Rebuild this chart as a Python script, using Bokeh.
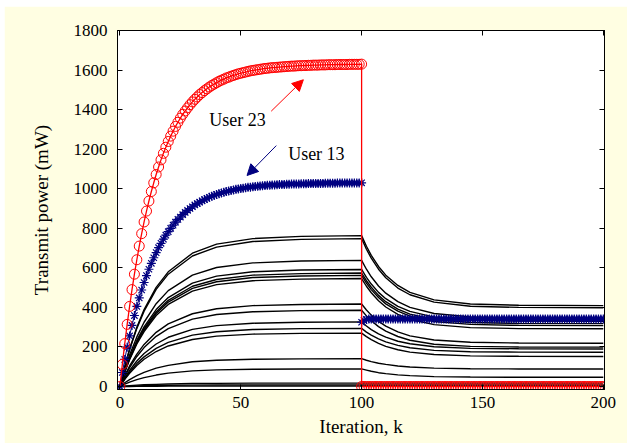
from bokeh.plotting import figure
from bokeh.models import (LinearAxis, FixedTicker, Arrow, NormalHead,
                          CustomJSTickFormatter, ColumnDataSource)
from bokeh.core.properties import value
from bokeh.embed import file_html
from bokeh.resources import INLINE

# Iteration indices for the two phases (phase 2 restarts at k = 100)
iter_rise = list(range(0, 101))
iter_after = list(range(100, 201))

# User 23 transmit power (mW)
user23_rise = [
    0, 112, 217, 314, 405, 490, 568, 641, 710, 773,
    832, 887, 938, 986, 1030, 1072, 1110, 1146, 1179, 1210,
    1239, 1266, 1291, 1315, 1336, 1357, 1376, 1393, 1409, 1425,
    1439, 1452, 1464, 1476, 1486, 1496, 1505, 1514, 1522, 1529,
    1536, 1543, 1549, 1554, 1560, 1564, 1569, 1573, 1577, 1581,
    1584, 1587, 1590, 1593, 1596, 1598, 1600, 1602, 1604, 1606,
    1608, 1609, 1611, 1612, 1613, 1614, 1615, 1616, 1617, 1618,
    1619, 1620, 1620, 1621, 1622, 1622, 1623, 1623, 1624, 1624,
    1625, 1625, 1625, 1626, 1626, 1626, 1627, 1627, 1627, 1627,
    1628, 1628, 1628, 1628, 1628, 1629, 1629, 1629, 1629, 1629,
    1630,
]
user23_after = [0] * 101

# User 13 transmit power (mW)
user13_rise = [
    0, 71, 137, 199, 256, 309, 359, 405, 448, 488,
    526, 561, 593, 623, 651, 677, 702, 724, 745, 765,
    783, 800, 816, 831, 845, 857, 869, 880, 891, 900,
    909, 918, 925, 932, 939, 945, 951, 957, 962, 966,
    971, 975, 979, 982, 986, 989, 991, 994, 997, 999,
    1001, 1003, 1005, 1007, 1008, 1010, 1011, 1012, 1014, 1015,
    1016, 1017, 1018, 1019, 1019, 1020, 1021, 1021, 1022, 1023,
    1023, 1024, 1024, 1024, 1024, 1025, 1025, 1025, 1026, 1026,
    1026, 1027, 1027, 1027, 1027, 1028, 1028, 1028, 1028, 1028,
    1029, 1029, 1029, 1029, 1029, 1029, 1029, 1029, 1029, 1029,
    1030,
]
user13_after = [325, 334, 339, 341] + [342] * 97

# Remaining users, sampled at these iterations
sample_k = [0, 2, 4, 7, 10, 15, 20, 30, 40, 55, 75, 100,
            102, 104, 107, 110, 115, 120, 130, 145, 165, 200]
other_users = [
    [0, 101, 190, 300, 389, 501, 580, 674, 720, 748, 759, 763, 709, 663, 607, 563, 511, 476, 438, 417, 411, 409],
    [0, 99, 186, 294, 381, 491, 568, 660, 705, 733, 744, 748, 694, 649, 593, 550, 498, 464, 427, 406, 400, 398],
    [0, 85, 159, 251, 325, 419, 485, 563, 602, 625, 635, 638, 593, 555, 508, 472, 429, 400, 369, 352, 346, 345],
    [0, 79, 147, 233, 302, 389, 450, 523, 558, 580, 589, 592, 552, 518, 476, 444, 405, 380, 351, 336, 331, 330],
    [0, 76, 143, 226, 293, 377, 436, 507, 541, 563, 571, 574, 535, 502, 461, 429, 391, 366, 339, 324, 319, 318],
    [0, 75, 140, 221, 287, 369, 427, 496, 530, 551, 559, 562, 523, 490, 450, 418, 381, 356, 329, 314, 309, 308],
    [0, 73, 136, 215, 278, 359, 415, 482, 515, 535, 543, 546, 507, 474, 434, 402, 365, 340, 313, 298, 293, 292],
    [0, 55, 104, 164, 213, 274, 317, 368, 393, 409, 415, 417, 387, 361, 329, 305, 276, 256, 235, 224, 220, 219],
    [0, 51, 96, 152, 197, 254, 293, 341, 364, 378, 384, 386, 357, 333, 303, 280, 253, 234, 214, 203, 200, 199],
    [0, 43, 81, 129, 167, 215, 249, 289, 308, 320, 325, 327, 306, 288, 266, 250, 229, 216, 201, 193, 191, 190],
    [0, 39, 73, 116, 150, 193, 223, 260, 277, 288, 293, 294, 275, 260, 241, 226, 208, 196, 183, 176, 174, 173],
    [0, 36, 67, 106, 138, 177, 205, 238, 255, 265, 269, 270, 252, 237, 218, 203, 186, 174, 162, 155, 153, 152],
    [0, 19, 35, 55, 72, 93, 107, 125, 133, 138, 140, 141, 133, 126, 118, 112, 104, 99, 93, 90, 89, 89],
    [0, 12, 22, 35, 45, 58, 68, 79, 84, 87, 89, 89, 83, 77, 70, 65, 59, 55, 50, 48, 47, 47],
    [0, 2, 4, 7, 9, 11, 13, 15, 16, 17, 17, 17, 17, 17, 17, 17, 17, 17, 17, 17, 17, 17],
    [0, 1, 2, 3, 4, 5, 6, 7, 8, 8, 8, 8, 8, 8, 8, 8, 8, 8, 8, 8, 8, 8],
    [0, 0, 0, 1, 1, 1, 2, 2, 2, 2, 2, 2, 2, 2, 2, 2, 2, 2, 2, 2, 2, 2],
]

x_ticks = [0, 50, 100, 150, 200]
y_ticks = [0, 200, 400, 600, 800, 1000, 1200, 1400, 1600, 1800]
annotations = ["User 23", "User 13"]

SERIF = "Liberation Serif"
AXIS_FONT = "serif"
CREAM = "#FFFEE2"

p = figure(width=623, height=437, x_range=(-1, 200.5), y_range=(-15, 1800),
           output_backend="svg", toolbar_location=None,
           background_fill_color="white", border_fill_color=CREAM,
           min_border_left=113, min_border_right=23,
           min_border_top=24, min_border_bottom=54,
           x_axis_label="Iteration, k", y_axis_label="Transmit power (mW)")
p.margin = (6, 4, 5, 4)
p.grid.visible = False
p.outline_line_color = "black"
p.outline_line_width = 1

for ax in (p.xaxis[0], p.yaxis[0]):
    ax.major_tick_in = 5
    ax.major_tick_out = 0
    ax.minor_tick_line_color = None
    ax.axis_line_color = "black"
    ax.major_label_text_font = AXIS_FONT
    ax.major_label_text_font_size = "17px"
    ax.major_label_text_color = "black"
    ax.axis_label_text_font = AXIS_FONT
    ax.axis_label_text_font_size = "19px"
    ax.axis_label_text_font_style = "normal"
    ax.axis_label_text_color = "black"

p.xaxis[0].ticker = FixedTicker(ticks=x_ticks)
p.yaxis[0].ticker = FixedTicker(ticks=y_ticks)
p.xaxis[0].major_label_standoff = 7
p.xaxis[0].axis_label_standoff = 5
p.yaxis[0].major_label_standoff = 10
p.yaxis[0].axis_label_standoff = 19

# Tick marks on the top and right edges of the box
blank = CustomJSTickFormatter(code="return ''")
top = LinearAxis(ticker=FixedTicker(ticks=x_ticks), formatter=blank,
                 major_tick_in=5, major_tick_out=0, minor_tick_line_color=None,
                 major_label_standoff=0)
right = LinearAxis(ticker=FixedTicker(ticks=y_ticks), formatter=blank,
                   major_tick_in=5, major_tick_out=0, minor_tick_line_color=None,
                   major_label_standoff=0)
p.add_layout(top, "above")
p.add_layout(right, "right")

# Other users
for ys in other_users:
    p.line(sample_k, ys, line_color="black", line_width=1.4)

# User 13: navy asterisks
src13 = ColumnDataSource(dict(k=iter_rise + iter_after, pw=user13_rise + user13_after))
p.line("k", "pw", source=src13, line_color="#000080", line_width=1)
p.scatter("k", "pw", source=src13, marker="asterisk", size=9,
          line_color="#000080", line_width=1.2)

# User 23: red open circles
src23 = ColumnDataSource(dict(k=iter_rise + iter_after, pw=user23_rise + user23_after))
p.line("k", "pw", source=src23, line_color="red", line_width=1.3)
p.scatter("k", "pw", source=src23, marker="circle", size=10,
          fill_color=None, line_color="red", line_width=1)

# Labels with arrows
p.text(x=[37.0, 69.6], y=[1350, 1178], text=annotations,
       text_font=value(SERIF), text_font_size="18px", text_color="black",
       text_align="left", text_baseline="alphabetic")
p.add_layout(Arrow(end=NormalHead(size=11, fill_color="red", line_color="red"),
                   x_start=62.6, y_start=1392, x_end=75.9, y_end=1551,
                   line_color="red", line_width=1))
p.add_layout(Arrow(end=NormalHead(size=11, fill_color="#000080", line_color="#000080"),
                   x_start=64.7, y_start=1218, x_end=52.6, y_end=1067,
                   line_color="#000080", line_width=1))

open("out.html", "w").write(file_html(p, INLINE))
